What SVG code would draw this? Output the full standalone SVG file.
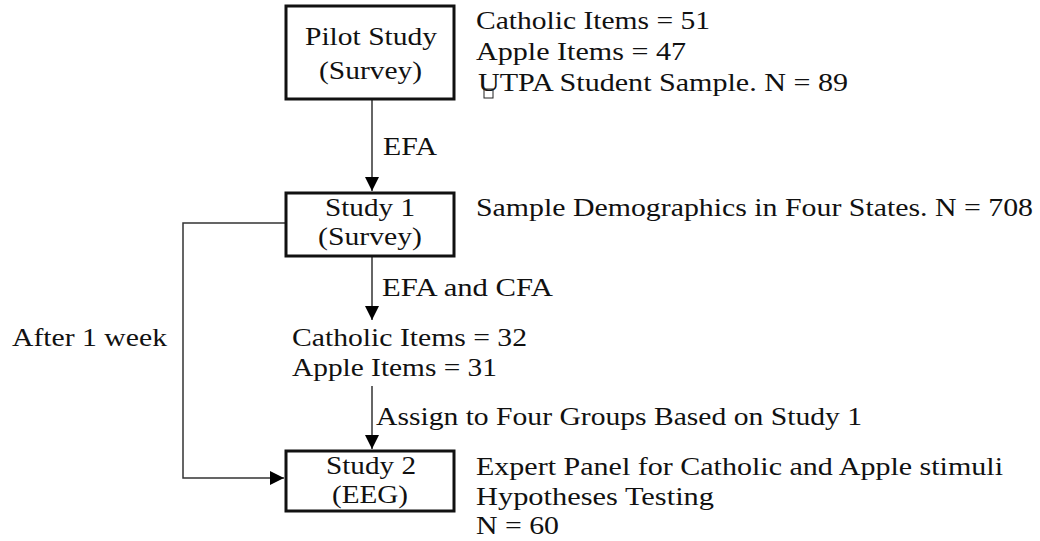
<svg xmlns="http://www.w3.org/2000/svg" width="1040" height="541" viewBox="0 0 1040 541">
<style>
text{font-family:"Liberation Serif","Times New Roman",serif;font-size:25px;fill:#111}
.box{fill:#fff;stroke:#111;stroke-width:3}
.ln{fill:none;stroke:#333;stroke-width:1.5}
</style>
<defs>
<marker id="ah" viewBox="0 0 10 10" refX="10" refY="5" markerWidth="15" markerHeight="14" markerUnits="userSpaceOnUse" orient="auto"><path d="M0,0 L10,5 L0,10 z" fill="#000"/></marker>
</defs>
<rect width="1040" height="541" fill="#fff"/>
<g id="connectors">
<line class="ln" x1="372" y1="100" x2="372" y2="191" marker-end="url(#ah)"/>
<line class="ln" x1="372" y1="257" x2="372" y2="320" marker-end="url(#ah)"/>
<line class="ln" x1="372" y1="386" x2="372" y2="449" marker-end="url(#ah)"/>
<polyline class="ln" points="285,223 183,223 183,478 284,478" marker-end="url(#ah)"/>
<text x="383" y="155" textLength="54" lengthAdjust="spacingAndGlyphs">EFA</text>
<text x="382" y="296" textLength="171" lengthAdjust="spacingAndGlyphs">EFA and CFA</text>
<text x="376" y="425" textLength="486" lengthAdjust="spacingAndGlyphs">Assign to Four Groups Based on Study 1</text>
<text x="12" y="346" textLength="155" lengthAdjust="spacingAndGlyphs">After 1 week</text>
</g>
<g id="pilot">
<rect class="box" x="286" y="6" width="168" height="93"/>
<text x="305" y="45" textLength="132" lengthAdjust="spacingAndGlyphs">Pilot Study</text>
<text x="319" y="79" textLength="103" lengthAdjust="spacingAndGlyphs">(Survey)</text>
</g>
<g id="pilot-notes">
<text x="476" y="29" textLength="234" lengthAdjust="spacingAndGlyphs">Catholic Items = 51</text>
<text x="476" y="60" textLength="210" lengthAdjust="spacingAndGlyphs">Apple Items = 47</text>
<text x="478" y="91" textLength="370" lengthAdjust="spacingAndGlyphs">UTPA Student Sample. N = 89</text>
<rect x="484" y="89" width="9" height="9" fill="none" stroke="#222" stroke-width="1"/>
</g>
<g id="study1">
<rect class="box" x="286" y="193" width="168" height="63"/>
<text x="325" y="216" textLength="90" lengthAdjust="spacingAndGlyphs">Study 1</text>
<text x="318" y="245" textLength="104" lengthAdjust="spacingAndGlyphs">(Survey)</text>
</g>
<g id="study1-notes">
<text x="476" y="216" textLength="557" lengthAdjust="spacingAndGlyphs">Sample Demographics in Four States. N = 708</text>
</g>
<g id="items">
<text x="292" y="346" textLength="235" lengthAdjust="spacingAndGlyphs">Catholic Items = 32</text>
<text x="292" y="376" textLength="205" lengthAdjust="spacingAndGlyphs">Apple Items = 31</text>
</g>
<g id="study2">
<rect class="box" x="286" y="451" width="168" height="60"/>
<text x="326" y="474" textLength="90" lengthAdjust="spacingAndGlyphs">Study 2</text>
<text x="332" y="503" textLength="76" lengthAdjust="spacingAndGlyphs">(EEG)</text>
</g>
<g id="study2-notes">
<text x="476" y="475" textLength="527" lengthAdjust="spacingAndGlyphs">Expert Panel for Catholic and Apple stimuli</text>
<text x="476" y="505" textLength="238" lengthAdjust="spacingAndGlyphs">Hypotheses Testing</text>
<text x="476" y="534" textLength="83" lengthAdjust="spacingAndGlyphs">N = 60</text>
</g>
</svg>
